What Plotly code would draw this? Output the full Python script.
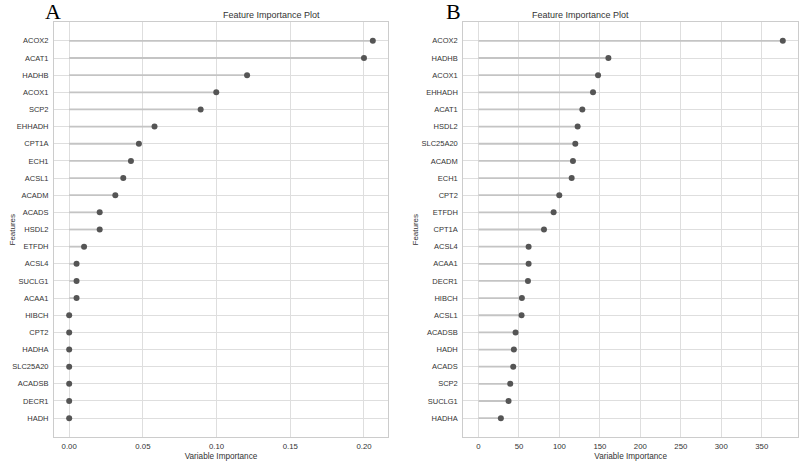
import plotly.graph_objects as go

feat_a = ["ACOX2", "ACAT1", "HADHB", "ACOX1", "SCP2", "EHHADH", "CPT1A", "ECH1",
          "ACSL1", "ACADM", "ACADS", "HSDL2", "ETFDH", "ACSL4", "SUCLG1", "ACAA1",
          "HIBCH", "CPT2", "HADHA", "SLC25A20", "ACADSB", "DECR1", "HADH"]
imp_a = [0.206, 0.200, 0.1207, 0.0998, 0.0892, 0.0579, 0.0473, 0.0419,
         0.0367, 0.0313, 0.0207, 0.0207, 0.0101, 0.005, 0.005, 0.005,
         0.0, 0.0, 0.0, 0.0, 0.0, 0.0, 0.0]

feat_b = ["ACOX2", "HADHB", "ACOX1", "EHHADH", "ACAT1", "HSDL2", "SLC25A20", "ACADM",
          "ECH1", "CPT2", "ETFDH", "CPT1A", "ACSL4", "ACAA1", "DECR1", "HIBCH",
          "ACSL1", "ACADSB", "HADH", "ACADS", "SCP2", "SUCLG1", "HADHA"]
imp_b = [376.0, 160.5, 147.7, 141.5, 128.3, 122.5, 119.6, 116.7,
         115.1, 99.8, 92.8, 80.9, 61.9, 61.9, 61.1, 53.6,
         53.2, 45.8, 43.7, 42.9, 39.2, 37.1, 27.6]

xticks_a = [0.0, 0.05, 0.10, 0.15, 0.20]
xticks_b = [0, 50, 100, 150, 200, 250, 300, 350]

W, H = 800, 463
ML, MR, MT, MB = 54, 2, 22, 26
PW, PH = W - ML - MR, H - MT - MB
STEM = "#c4c4c4"
DOT = "#555555"
GRID = "#dedede"
TXT = "#333333"
FONT = "Liberation Sans, Arial, sans-serif"


def px(x):
    return (x - ML) / PW


def py(y):
    return (H - MB - y) / PH


fig = go.Figure()


def add_panel(feats, vals, xa, ya):
    xs, ys = [], []
    for f, v in zip(feats, vals):
        xs += [0, v, None]
        ys += [f, f, None]
    fig.add_trace(go.Scatter(x=xs, y=ys, mode="lines", line=dict(color=STEM, width=1.8),
                             xaxis=xa, yaxis=ya, showlegend=False, hoverinfo="skip"))
    fig.add_trace(go.Scatter(x=vals, y=feats, mode="markers",
                             marker=dict(color=DOT, size=6),
                             xaxis=xa, yaxis=ya, showlegend=False))


add_panel(feat_a, imp_a, "x", "y")
add_panel(feat_b, imp_b, "x2", "y2")


def rng(vals):
    m = max(vals)
    return [-0.05 * m, m * 1.05]


n = len(feat_a)
common_x = dict(showgrid=True, gridcolor=GRID, gridwidth=1, zeroline=False,
                showline=True, linecolor="#cccccc", linewidth=1, mirror=True,
                ticks="", automargin=False, ticklabelstandoff=2,
                tickfont=dict(family=FONT, size=7.8, color=TXT),
                title=dict(text="Variable Importance", font=dict(family=FONT, size=8.2, color=TXT),
                           standoff=2))
common_y = dict(type="category", showgrid=True, gridcolor=GRID, gridwidth=1, zeroline=False,
                showline=True, linecolor="#cccccc", linewidth=1, mirror=True,
                ticks="", automargin=False, ticklabelstandoff=3,
                tickfont=dict(family=FONT, size=7.5, color=TXT),
                range=[n - 1 + 1.1, -1.1], domain=[0, 1])

ann_font = dict(family=FONT, size=8, color=TXT)
fig.update_layout(
    width=W, height=H,
    margin=dict(l=ML, r=MR, t=MT, b=MB),
    paper_bgcolor="white", plot_bgcolor="white",
    xaxis=dict(domain=[px(54), px(388)], range=rng(imp_a), tickvals=xticks_a,
               ticktext=[f"{v:.2f}" for v in xticks_a], anchor="y", **common_x),
    yaxis=dict(anchor="x", categoryorder="array", categoryarray=feat_a, **common_y),
    xaxis2=dict(domain=[px(463.3), px(798)], range=rng(imp_b), tickvals=xticks_b,
                ticktext=[str(v) for v in xticks_b], anchor="y2", **common_x),
    yaxis2=dict(anchor="x2", categoryorder="array", categoryarray=feat_b, **common_y),
    annotations=[
        dict(text="Feature Importance Plot", x=px((54 + 388) / 2), y=py(15), xref="paper", yref="paper",
             yanchor="middle", showarrow=False, font=dict(family=FONT, size=9, color=TXT)),
        dict(text="Feature Importance Plot", x=px((463.3 + 798) / 2), y=py(15), xref="paper", yref="paper",
             yanchor="middle", showarrow=False, font=dict(family=FONT, size=9, color=TXT)),
        dict(text="Features", x=px(12), y=py(229.5), xref="paper", yref="paper", textangle=-90,
             xanchor="center", yanchor="middle", showarrow=False, font=ann_font),
        dict(text="Features", x=px(415), y=py(229.5), xref="paper", yref="paper", textangle=-90,
             xanchor="center", yanchor="middle", showarrow=False, font=ann_font),
        dict(text="A", x=px(43), y=py(12), xref="paper", yref="paper", yanchor="middle", showarrow=False,
             font=dict(family="Liberation Serif, Times New Roman, serif", size=22, color="black")),
        dict(text="B", x=px(453), y=py(12), xref="paper", yref="paper", yanchor="middle", showarrow=False,
             font=dict(family="Liberation Serif, Times New Roman, serif", size=22, color="black")),
    ],
)

fig.write_html(
    "out.html",
    config={"displayModeBar": False},
    post_script="document.body.style.margin='0';document.body.style.padding='0';"
                "document.documentElement.style.overflow='hidden';",
)
